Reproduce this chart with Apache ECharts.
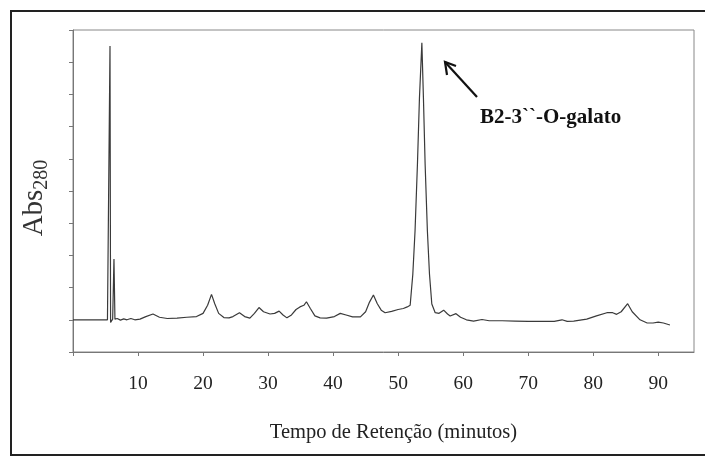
<!DOCTYPE html>
<html>
<head>
<meta charset="utf-8">
<script src="https://cdn.jsdelivr.net/npm/echarts@6/dist/echarts.min.js"></script>
<style>
  html, body { margin: 0; padding: 0; background: #fff; }
  #main { width: 705px; height: 457px; }
</style>
</head>
<body>
<div id="main"></div>
<script>
// retention time (min) and absorbance
let time = [0, 5.3, 5.45, 5.69, 5.78, 5.9, 6.1, 6.3, 6.45, 6.8, 7.3, 7.8, 8.3, 8.9, 9.5, 10.3,
  11.2, 12.3, 13.3, 14.5, 16.0, 17.5, 19.0, 20.0, 20.7, 21.3, 21.8, 22.4, 23.2, 24.0, 24.6,
  25.6, 26.4, 27.2, 27.9, 28.6, 29.3, 30.3, 31.0, 31.7, 32.3, 32.9, 33.6, 34.3, 34.9, 35.5,
  35.9, 36.5, 37.2, 38.0, 39.0, 40.2, 41.1, 42.0, 43.0, 44.2, 45.0, 45.6, 46.2, 46.8, 47.4,
  48.0, 49.0, 50.0, 50.8, 51.4, 51.85, 52.26, 52.6, 52.97, 53.28, 53.65, 53.89, 54.15, 54.5,
  54.82, 55.18, 55.7, 56.3, 57.0, 57.6, 58.0, 58.9, 59.6, 60.5, 61.6, 62.9, 64.0, 66.0, 68.0,
  70.0, 72.0, 74.0, 75.2, 76.0, 77.0, 79.0, 80.5, 82.1, 83.0, 83.6, 84.3, 85.3, 86.0, 87.2,
  88.3, 89.2, 90.0, 90.8, 91.8];
let absorb = [1.0, 1.0, 1.0, 9.5, 0.92, 0.95, 1.02, 2.89, 1.02, 1.04, 0.99, 1.03, 1.0, 1.04, 1.0, 1.02,
  1.1, 1.18, 1.08, 1.04, 1.05, 1.08, 1.1, 1.2, 1.45, 1.79, 1.5, 1.2, 1.07, 1.06, 1.1,
  1.22, 1.1, 1.05, 1.2, 1.38, 1.25, 1.18, 1.2, 1.27, 1.15, 1.06, 1.15, 1.32, 1.4, 1.45,
  1.56, 1.35, 1.12, 1.06, 1.05, 1.1, 1.2, 1.15, 1.09, 1.09, 1.25, 1.55, 1.77, 1.5, 1.3,
  1.22, 1.26, 1.32, 1.35, 1.4, 1.45, 2.42, 3.76, 5.84, 7.9, 9.6, 7.9, 5.84, 3.76,
  2.42, 1.49, 1.22, 1.2, 1.3, 1.18, 1.12, 1.19, 1.08, 1.0, 0.96, 1.01, 0.97, 0.97, 0.96,
  0.95, 0.95, 0.95, 1.0, 0.95, 0.96, 1.02, 1.12, 1.22, 1.22, 1.17, 1.25, 1.5, 1.25, 1.0,
  0.9, 0.9, 0.93, 0.9, 0.84];
let xTicks = [10, 20, 30, 40, 50, 60, 70, 80, 90];
let peakLabel = 'B2-3``-O-galato';

let serif = '"Liberation Serif", "DejaVu Serif", serif';

let points = [];
for (let i = 0; i < time.length; i++) {
  points.push([time[i], absorb[i]]);
}

let myChart = echarts.init(document.getElementById('main'));

let option = {
  backgroundColor: '#fff',
  animation: false,
  grid: {
    left: 73, top: 30, right: 11, bottom: 105,
    show: true, borderColor: '#888', borderWidth: 1
  },
  xAxis: {
    type: 'value',
    min: 0, max: 95.5, interval: 10,
    splitLine: { show: false },
    axisLine: { lineStyle: { color: '#777', width: 1 } },
    axisTick: { length: 4, lineStyle: { color: '#777' } },
    axisLabel: {
      margin: 22,
      color: '#222',
      fontFamily: serif,
      fontSize: 19.5,
      showMaxLabel: false,
      formatter: function (v) { return xTicks.indexOf(v) >= 0 ? String(v) : ''; }
    },
    name: 'Tempo de Retenção (minutos)',
    nameLocation: 'middle',
    nameGap: 70,
    nameTextStyle: { color: '#222', fontFamily: serif, fontSize: 20.5, padding: [0, 0, 0, 20] }
  },
  yAxis: {
    type: 'value',
    min: 0, max: 10, interval: 1,
    splitLine: { show: false },
    axisLine: { show: true, lineStyle: { color: '#777', width: 1 } },
    axisTick: { show: true, length: 4, lineStyle: { color: '#777' } },
    axisLabel: { show: false },
    name: '{a|Abs}{b|280}',
    nameLocation: 'middle',
    nameRotate: 90,
    nameGap: 21,
    nameTextStyle: {
      padding: [0, 14, 0, 0],
      rich: {
        a: { fontFamily: serif, fontSize: 29, color: '#333' },
        b: { fontFamily: serif, fontSize: 20, color: '#333', padding: [16, 0, 0, 0] }
      }
    }
  },
  series: [{
    type: 'line',
    data: points,
    showSymbol: false,
    smooth: false,
    lineStyle: { color: '#3a3a3a', width: 1.2 }
  }],
  graphic: [
    {
      type: 'rect',
      shape: { x: 11, y: 11, width: 720, height: 444 },
      style: { fill: 'none', stroke: '#222', lineWidth: 2 }
    },
    {
      type: 'polyline',
      shape: { points: [[477, 97], [445, 62]] },
      style: { stroke: '#111', lineWidth: 2.2, fill: 'none' }
    },
    {
      type: 'polyline',
      shape: { points: [[447, 75], [445, 62], [456, 66]] },
      style: { stroke: '#111', lineWidth: 2.2, fill: 'none' }
    },
    {
      type: 'text',
      x: 480, y: 118,
      style: {
        text: peakLabel,
        fill: '#111',
        font: 'bold 21px ' + serif,
        verticalAlign: 'middle'
      }
    }
  ]
};

myChart.setOption(option);
</script>
</body>
</html>
